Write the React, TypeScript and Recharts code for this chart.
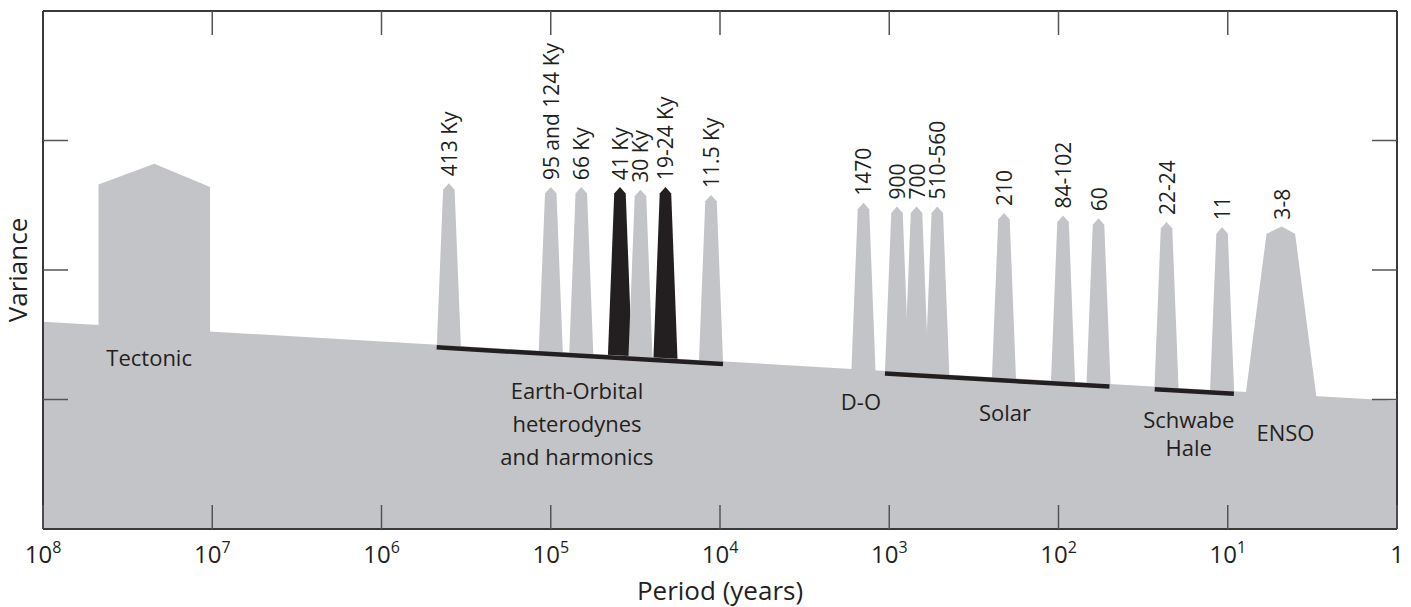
import React from 'react';
import { ComposedChart, Area, Line, Scatter, XAxis, YAxis } from 'recharts';

const FONT = '"Open Sans", "Noto Sans", sans-serif';
const GRAY = '#c3c4c7';
const INK = '#231f20';
const FRAME = '#3a3a3a';
const TICK = { stroke: '#555', strokeWidth: 1.5 };

// straight background continuum: variance at 10^8 yr and at 1 yr
const continuumEnds = [
  { period: 1e8, variance: 1.6 },
  { period: 1, variance: 0.99 },
];

// narrow spectral peaks
const peakLabels = ['413 Ky', '95 and 124 Ky', '66 Ky', '41 Ky', '30 Ky', '19-24 Ky', '11.5 Ky', '1470', '900', '700', '510-560', '210', '84-102', '60', '22-24', '11'];
const peakPeriods = [400000, 100000, 66000, 39000, 29500, 21000, 11300, 1420, 900, 690, 520, 210, 94, 58, 23, 10.8];
const peakHeights = [2.67, 2.64, 2.64, 2.64, 2.62, 2.64, 2.58, 2.52, 2.49, 2.49, 2.49, 2.44, 2.42, 2.4, 2.37, 2.33];
const darkPeaks = ['41 Ky', '19-24 Ky'];

// broad features, [period, variance]; null = sits on the continuum
const tectonicOutline: [number, number | null][] = [[47e6, 0], [47e6, 2.66], [22e6, 2.82], [10.3e6, 2.64], [10.3e6, 0]];
const ensoOutline: [number, number | null][] = [[7.8, null], [5.9, 2.28], [4.8, 2.335], [4.0, 2.28], [3.0, null]];
const ensoLabel = { label: '3-8', period: 4.8, variance: 2.335 };

// black bars along the continuum
const bandNames = ['Earth-Orbital', 'Solar', 'Schwabe-Hale'];
const bandFrom = [472000, 1060, 27];
const bandTo = [9600, 50, 9.2];

// group names written in the grey
const groupText = ['Tectonic', 'Earth-Orbital', 'heterodynes', 'and harmonics', 'D-O', 'Solar', 'Schwabe', 'Hale', 'ENSO'];
const groupPeriod = [23.6e6, 70000, 70000, 70000, 1470, 207, 17, 17, 4.56];
const groupVariance = [1.33, 1.07, 0.82, 0.56, 0.99, 0.9, 0.85, 0.63, 0.75];

const xTicks = [0, 1, 2, 3, 4, 5, 6, 7, 8];
const yTicks = [1, 2, 3];
const Y_MAX = 4;

// peak shape (decades / variance units)
const BASE_HALF = 0.071;
const TOP_HALF = 0.034;
const TIP_DROP = 0.05;
const BAND_DROP = 0.02;

const lg = Math.log10;
const continuum = (lx: number) => {
  const [a, b] = continuumEnds;
  const la = lg(a.period);
  const lb = lg(b.period);
  return a.variance + ((b.variance - a.variance) * (lx - la)) / (lb - la);
};

const outline = (pts: [number, number | null][]) =>
  pts.map(([p, v]) => ({ x: lg(p), v: v === null ? continuum(lg(p)) : v }));

const peakShape = (period: number, h: number) => {
  const c = lg(period);
  return [
    { x: c + BASE_HALF, v: continuum(c + BASE_HALF) },
    { x: c + TOP_HALF, v: h - TIP_DROP },
    { x: c, v: h },
    { x: c - TOP_HALF, v: h - TIP_DROP },
    { x: c - BASE_HALF, v: continuum(c - BASE_HALF) },
  ];
};

const peaks = peakLabels.map((label, i) => ({
  label,
  dark: darkPeaks.includes(label),
  points: peakShape(peakPeriods[i], peakHeights[i]),
}));

const continuumData = continuumEnds.map((d) => ({ x: lg(d.period), v: d.variance }));

const bands = bandNames.map((name, i) => ({
  name,
  points: [bandFrom[i], bandTo[i]].map((p) => ({ x: lg(p), v: continuum(lg(p)) - BAND_DROP })),
}));

const peakLabelData = [
  ...peakLabels.map((label, i) => ({ x: lg(peakPeriods[i]), v: peakHeights[i], label })),
  { x: lg(ensoLabel.period), v: ensoLabel.variance, label: ensoLabel.label },
];

const groupData = groupText.map((label, i) => ({ x: lg(groupPeriod[i]), v: groupVariance[i], label }));

// decade marks hanging from the top frame
const topTickData = xTicks.slice(1, -1).map((t) => ({ x: t, v: Y_MAX }));

function BottomTick({ x, y, payload }: any) {
  const n = payload.value;
  return (
    <g>
      <line x1={x} x2={x} y1={y} y2={y - 24} {...TICK} />
      <text x={x} y={y + 34} textAnchor="middle" fontFamily={FONT} fontSize={24} fill={INK}>
        {n === 0 ? '1' : (
          <>
            10<tspan fontSize={16} dy={-10}>{n}</tspan>
          </>
        )}
      </text>
    </g>
  );
}

function TopTickMark({ cx, cy }: any) {
  return <line x1={cx} x2={cx} y1={cy} y2={cy + 24} {...TICK} />;
}

function LeftTick({ x, y }: any) {
  return <line x1={x} x2={x + 25} y1={y} y2={y} {...TICK} />;
}

function RightTick({ x, y }: any) {
  return <line x1={x} x2={x - 25} y1={y} y2={y} {...TICK} />;
}

function PeakLabel({ cx, cy, payload }: any) {
  const ty = cy - 7;
  return (
    <text
      x={cx}
      y={ty}
      transform={`rotate(-90 ${cx} ${ty})`}
      textAnchor="start"
      dominantBaseline="central"
      fontFamily={FONT}
      fontSize={21}
      fill={INK}
    >
      {payload.label}
    </text>
  );
}

function GroupLabel({ cx, cy, payload }: any) {
  return (
    <text x={cx} y={cy} textAnchor="middle" dominantBaseline="central" fontFamily={FONT} fontSize={22} fill={INK}>
      {payload.label}
    </text>
  );
}

const frameAxis = {
  tickLine: false,
  tickSize: 0,
  tickMargin: 0,
  interval: 0 as const,
  allowDataOverflow: true,
  axisLine: { stroke: FRAME, strokeWidth: 2 },
};

export default function App() {
  return (
    <div style={{ position: 'absolute', left: 0, top: 0, background: '#fff' }}>
      <ComposedChart width={1411} height={607} margin={{ top: 0, right: 0, bottom: 0, left: 0 }}>
        <XAxis
          {...frameAxis}
          dataKey="x"
          type="number"
          domain={[0, 8]}
          reversed
          ticks={xTicks}
          height={78}
          tick={<BottomTick />}
          label={{ value: 'Period (years)', position: 'insideBottom', offset: 7, fontSize: 26, fontFamily: FONT, fill: INK }}
        />
        <XAxis
          {...frameAxis}
          xAxisId="top"
          orientation="top"
          type="number"
          domain={[0, 8]}
          reversed
          ticks={xTicks}
          height={11}
          tick={false}
        />
        <YAxis
          {...frameAxis}
          type="number"
          domain={[0, Y_MAX]}
          ticks={yTicks}
          width={43}
          tick={<LeftTick />}
          label={{
            content: (props: any) => {
              const vb = props.viewBox || { x: 0, y: 11, width: 43, height: 518 };
              const tx = vb.x + 17;
              const ty = vb.y + vb.height / 2;
              return (
                <text
                  x={tx}
                  y={ty}
                  transform={`rotate(-90 ${tx} ${ty})`}
                  textAnchor="middle"
                  dominantBaseline="central"
                  fontFamily={FONT}
                  fontSize={26}
                  fill={INK}
                >
                  Variance
                </text>
              );
            },
          }}
        />
        <YAxis
          {...frameAxis}
          yAxisId="right"
          orientation="right"
          type="number"
          domain={[0, Y_MAX]}
          ticks={yTicks}
          width={14}
          tick={<RightTick />}
        />

        <Area
          data={outline(tectonicOutline)}
          dataKey="v"
          type="linear"
          baseValue={0}
          fill={GRAY}
          fillOpacity={1}
          stroke="none"
          isAnimationActive={false}
        />
        <Area
          data={outline(ensoOutline)}
          dataKey="v"
          type="linear"
          baseValue={0}
          fill={GRAY}
          fillOpacity={1}
          stroke="none"
          isAnimationActive={false}
        />
        {peaks.map((p) => (
          <Area
            key={p.label}
            data={p.points}
            dataKey="v"
            type="linear"
            baseValue={0}
            fill={p.dark ? INK : GRAY}
            fillOpacity={1}
            stroke="none"
            isAnimationActive={false}
          />
        ))}
        <Area
          data={continuumData}
          dataKey="v"
          type="linear"
          baseValue={0}
          fill={GRAY}
          fillOpacity={1}
          stroke="none"
          isAnimationActive={false}
        />
        {bands.map((b) => (
          <Line
            key={b.name}
            data={b.points}
            dataKey="v"
            type="linear"
            stroke={INK}
            strokeWidth={4.5}
            dot={false}
            activeDot={false}
            isAnimationActive={false}
          />
        ))}
        <Scatter data={topTickData} dataKey="v" shape={<TopTickMark />} isAnimationActive={false} />
        <Scatter data={peakLabelData} dataKey="v" shape={<PeakLabel />} isAnimationActive={false} />
        <Scatter data={groupData} dataKey="v" shape={<GroupLabel />} isAnimationActive={false} />
      </ComposedChart>
    </div>
  );
}
